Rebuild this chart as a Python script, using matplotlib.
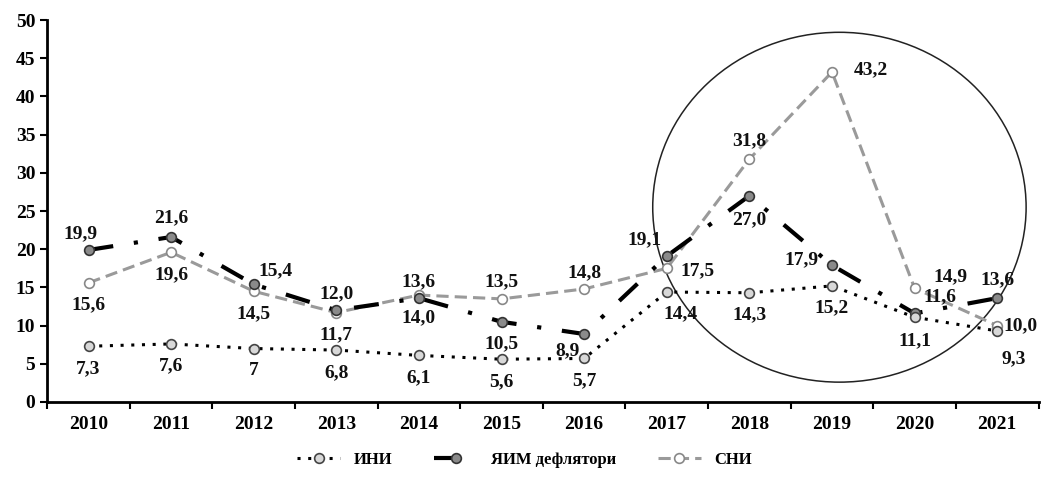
import matplotlib
matplotlib.use("Agg")
import matplotlib.pyplot as plt
from matplotlib.patches import Ellipse

years = ["2010", "2011", "2012", "2013", "2014", "2015",
         "2016", "2017", "2018", "2019", "2020", "2021"]
ini = [7.3, 7.6, 7.0, 6.8, 6.1, 5.6, 5.7, 14.4, 14.3, 15.2, 11.1, 9.3]
yaim = [19.9, 21.6, 15.4, 12.0, 13.6, 10.5, 8.9, 19.1, 27.0, 17.9, 11.6, 13.6]
sni = [15.6, 19.6, 14.5, 11.7, 14.0, 13.5, 14.8, 17.5, 31.8, 43.2, 14.9, 10.0]
ini_text = ["7,3", "7,6", "7", "6,8", "6,1", "5,6", "5,7", "14,4", "14,3", "15,2", "11,1", "9,3"]
names = ["ИНИ", "ЯИМ дефлятори", "СНИ"]

# label offsets in points (dx, dy)
ini_off = [(0, -16)] * 7 + [(10, -16), (0, -16), (0, -16), (0, -17), (12, -20)]
yaim_off = [(-6, 12), (0, 14), (16, 10), (0, 12), (0, 12), (0, -16), (-12, -12),
            (-16, 12), (0, -17), (-22, 4), (18, 12), (0, 13)]
sni_off = [(0, -16), (0, -16), (0, -16), (0, -16), (0, -16), (0, 12), (0, 12),
           (22, -2), (0, 13), (28, 2), (26, 8), (17, 0)]

plt.rcParams["font.family"] = ["Liberation Serif", "DejaVu Serif"]
plt.rcParams["font.weight"] = "bold"

fig = plt.figure(figsize=(10.49, 4.78), dpi=100)
ax = fig.add_axes([0.045, 0.159, 0.945, 0.799])

x = list(range(len(years)))

ax.plot(x, sni, color="#9a9a9a", lw=2.2, ls=(0, (4, 2)),
        marker="o", ms=7, mfc="white", mec="#888888", mew=1.2, label=names[2], zorder=2)
ax.plot(x, yaim, color="black", lw=3, ls=(0, (6, 5, 1, 5)),
        marker="o", ms=7, mfc="#8a8a8a", mec="#333333", mew=1.2, label=names[1], zorder=3)
ax.plot(x, ini, color="black", lw=2.2, ls=(0, (1, 2.5)),
        marker="o", ms=7, mfc="#d8d8d8", mec="#444444", mew=1.2, label=names[0], zorder=4)

lab_kw = dict(textcoords="offset points", ha="center", va="center",
              fontsize=14, fontweight="bold", color="#111111")
for i in x:
    ax.annotate(ini_text[i], (i, ini[i]), xytext=ini_off[i], **lab_kw)
    ax.annotate(f"{yaim[i]:.1f}".replace(".", ","), (i, yaim[i]), xytext=yaim_off[i], **lab_kw)
    ax.annotate(f"{sni[i]:.1f}".replace(".", ","), (i, sni[i]), xytext=sni_off[i], **lab_kw)

# highlight ring around 2017-2021
ax.add_patch(Ellipse((9.09, 25.5), 4.52, 45.8, fill=False, ec="#222222", lw=1.1,
                     clip_on=False, zorder=1))

ax.set_xlim(-0.5, 11.5)
ax.set_ylim(0, 50)
ax.set_yticks(range(0, 51, 5))
ax.set_xticks(x)
ax.set_xticklabels(years)
ax.set_xticks([i + 0.5 for i in range(-1, 12)], minor=True)
ax.tick_params(axis="x", which="major", length=0, pad=10, labelsize=14)
ax.tick_params(axis="x", which="minor", length=5, width=1.5, direction="out")
ax.tick_params(axis="y", length=5, width=1.5, labelsize=14)
for t in ax.get_xticklabels() + ax.get_yticklabels():
    t.set_fontweight("bold")

for s in ("top", "right"):
    ax.spines[s].set_visible(False)
for s in ("left", "bottom"):
    ax.spines[s].set_linewidth(2)

fig.legend(loc="lower center", bbox_to_anchor=(0.5, -0.01), ncol=3, frameon=False,
           fontsize=12, handlelength=2.6, columnspacing=2.5,
           handles=ax.get_lines()[::-1], labels=names)

fig.savefig("out.png", dpi=100)
